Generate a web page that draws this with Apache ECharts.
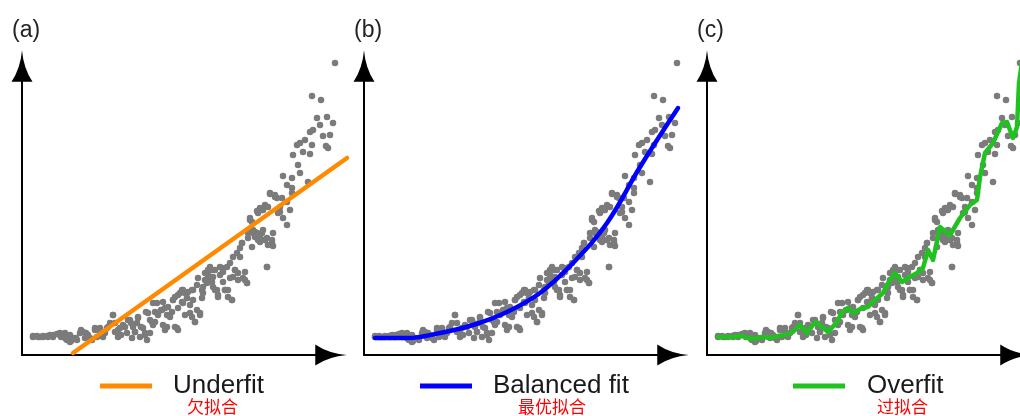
<!DOCTYPE html>
<html><head><meta charset="utf-8">
<script src="https://cdn.jsdelivr.net/npm/echarts@6/dist/echarts.min.js"></script>
<style>html,body{margin:0;padding:0;background:#fff}#c{width:1020px;height:416px}</style>
</head><body><div id="c"></div>
<script>
// Panel texts
const panelLabels = ['(a)', '(b)', '(c)'];
const fitNames = ['Underfit', 'Balanced fit', 'Overfit'];
const fitNamesCN = ['欠拟合', '最优拟合', '过拟合'];

// Observed points (same data in all three panels), x / y in axis units
const observedPoints = [
  [11,18],[15,19],[18,18],[21,18],[25,19],[28,20],[31,18],[35,21],[38,22],[41,18],[45,15],[48,13],[51,17],[55,15],[58,22],[61,23],[63,17],[66,20],[70,15],[73,25],[75,18],[78,27],[80,20],[83,22],[85,27],[88,32],[91,40],[93,23],[96,18],[98,27],[101,30],[105,22],[108,35],[110,17],[111,28],[113,23],[115,32],[116,37],[118,18],[121,27],[123,22],[125,15],[126,42],[128,22],[130,33],[131,30],[133,43],[135,52],[136,40],[140,45],[141,53],[143,25],[145,40],[146,48],[148,38],[150,43],[151,55],[153,58],[155,27],[156,47],[158,62],[160,53],[161,65],[163,40],[165,57],[166,63],[168,42],[170,65],[171,55],[173,33],[175,70],[176,77],[178,42],[180,65],[181,62],[183,82],[185,72],[186,85],[188,88],[190,73],[191,78],[193,85],[195,65],[196,60],[198,80],[200,87],[201,73],[203,65],[205,88],[206,58],[208,92],[210,55],[211,78],[213,85],[215,102],[216,75],[218,98],[220,112],[221,77],[223,83],[225,72],[226,122],[228,135],[230,108],[231,125],[233,118],[235,122],[236,142],[238,113],[240,122],[241,145],[243,115],[245,88],[246,148],[248,162],[250,112],[251,122],[253,158],[255,157],[256,142],[258,148],
  [313,292],[290,259],[299,255],[295,237],[305,238],[311,232],[298,230],[291,225],[288,223],[301,219],[308,220],[283,215],[278,212],[275,210],[290,210],[304,209],[306,207],[281,203],[271,200],[288,201],[276,190],[278,182],[261,179],[270,177],[286,173],[265,170],[270,167],[270,162],[248,161],[253,160],[260,157],[265,153],[243,150],[235,144],[238,147],[268,145],[258,143],[261,137],[265,130],[230,133],[233,123],[238,118],[245,117],[250,115],[251,109],
  [11,19],[16,18],[21,19],[26,18],[31,20],[36,21],[39,18],[44,16],[49,14],[54,17],[43,22],[48,20],[59,25],[64,22],[68,17],[73,27],[78,23],[81,18],[86,28],[91,40],[93,32],[96,25],[99,20],[103,28],[106,35],[109,32],[113,23],[116,38],[119,28],[123,20],[124,43],[128,35],[131,52],[133,33],[136,42],[139,45],[141,30],
  [143,47],[145,28],[153,28],[156,25],[151,55],[156,60],[160,65],[163,62],[161,52],[165,57],[168,50],[171,65],[170,38],[173,33],[178,40],[175,45],[180,57],[181,68],[183,75],[186,80],[190,85],[188,77],[191,68],[193,65],[196,58],[198,88],[201,83],[203,65],[206,65],[208,77],[210,55],[211,98],[213,85],[216,82],[218,107],[220,112],[223,75],[225,72],[226,117],[228,137],[231,122],[235,120],[236,115],[238,117],[240,145],[241,125],[243,115],[245,88],[246,110]
];

// Fitted curves
const underfitLine = [[51,2],[325,197]];
const balancedLine = [[11,17],[43,17],[76,22],[109,30],[143,43],[176,62],[209,92],[243,132],[276,188],[314,247]];
const overfitLine = [[11,18],[25,18],[35,19],[45,16],[55,18],[65,17],[70,19],[78,20],[86,23],[93,30],[100,22],[108,33],[113,30],[121,23],[130,33],[135,43],[141,47],[146,42],[155,47],[161,48],[168,55],[176,62],[181,72],[188,82],[195,73],[203,78],[210,82],[216,87],[221,105],[226,95],[233,128],[243,120],[253,137],[263,150],[270,155],[273,178],[278,202],[286,212],[295,232],[300,233],[306,217],[310,228],[312,272],[316,300]];

const fitData = [underfitLine, balancedLine, overfitLine];
const fitColors = ['#ff8a00', '#0000ff', '#1fc21f'];
const fitSmooth = [false, 0.4, false];

const CHART_W = 1020;
const gridLefts = [22, 364, 707];
const ORIGIN_Y = 355;
// visible arrow axes
const AX_X_MAX = 309, AX_Y_MAX = 289;
// data plotting area (same 1:1 scale, larger so nothing is clipped)
const DATA_X_MAX = 340, DATA_Y_MAX = 305;

const chart = echarts.init(document.getElementById('c'), null, {renderer: 'canvas'});

const arrowPath = 'path://M10,0 Q11.6,19 21,33 L-1,33 Q8.4,19 10,0 Z';
const axisLine = {
  show: true,
  symbol: ['none', arrowPath],
  symbolSize: [21, 33],
  lineStyle: {color: '#000', width: 2}
};
const hidden = {show: false};

const grids = [], xAxes = [], yAxes = [], series = [], graphics = [];
const legendLeft = [100, 420, 793];
const legendTextLeft = [173, 493, 867];
const cnLeft = [187, 518, 877];

for (let i = 0; i < 3; i++) {
  grids.push({left: gridLefts[i], top: ORIGIN_Y - AX_Y_MAX, width: AX_X_MAX, height: AX_Y_MAX});
  xAxes.push({type: 'value', gridIndex: i, min: 0, max: AX_X_MAX, axisLine: axisLine,
    axisTick: hidden, axisLabel: hidden, splitLine: hidden});
  yAxes.push({type: 'value', gridIndex: i, min: 0, max: AX_Y_MAX, axisLine: axisLine,
    axisTick: hidden, axisLabel: hidden, splitLine: hidden});
}
for (let i = 0; i < 3; i++) {
  const g = 3 + i;
  const w = Math.min(DATA_X_MAX, CHART_W - gridLefts[i]);
  grids.push({left: gridLefts[i], top: ORIGIN_Y - DATA_Y_MAX, width: w, height: DATA_Y_MAX});
  xAxes.push({type: 'value', gridIndex: g, min: 0, max: w, show: false});
  yAxes.push({type: 'value', gridIndex: g, min: 0, max: DATA_Y_MAX, show: false});
  series.push({
    type: 'scatter', name: 'data' + i, xAxisIndex: g, yAxisIndex: g,
    data: observedPoints, symbolSize: 6.5, clip: false,
    itemStyle: {color: '#7b7b7b', opacity: 1}, z: 2, silent: true
  });
  series.push({
    type: 'line', name: fitNames[i], xAxisIndex: g, yAxisIndex: g,
    data: fitData[i], showSymbol: false, smooth: fitSmooth[i], clip: false,
    lineStyle: {color: fitColors[i], width: 4.5, join: 'round', cap: 'round'}, z: 3, silent: true
  });
  graphics.push({type: 'text', left: gridLefts[i] - 10, top: 19,
    style: {text: panelLabels[i], font: '23px "Liberation Sans", Arial, sans-serif', fill: '#222'}});
  graphics.push({type: 'rect', shape: {x: legendLeft[i], y: 383.5, width: 52, height: 5},
    style: {fill: fitColors[i]}});
  graphics.push({type: 'text', x: legendTextLeft[i], y: 386,
    style: {text: fitNames[i], font: '26px "Liberation Sans", Arial, sans-serif', fill: '#1a1a1a', verticalAlign: 'middle'}});
  graphics.push({type: 'text', x: cnLeft[i], y: 407,
    style: {text: fitNamesCN[i], font: '17px "Noto Sans CJK SC", sans-serif', fill: '#ff0000', verticalAlign: 'middle'}});
}

chart.setOption({
  animation: false,
  backgroundColor: '#fff',
  grid: grids, xAxis: xAxes, yAxis: yAxes, series: series, graphic: graphics
});
</script></body></html>
